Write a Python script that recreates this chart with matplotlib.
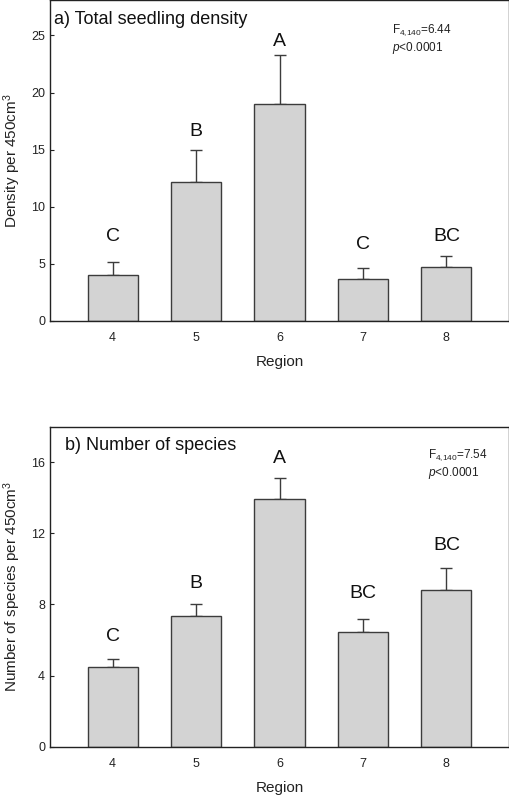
import matplotlib
matplotlib.use("Agg")
import matplotlib.pyplot as plt

plt.rcParams['font.family'] = ['Liberation Sans', 'DejaVu Sans']
plt.rcParams['mathtext.fontset'] = 'custom'
plt.rcParams['mathtext.rm'] = 'Liberation Sans'
plt.rcParams['mathtext.it'] = 'Liberation Sans:italic'

regions = [4, 5, 6, 7, 8]

density_mean = [4.0, 12.2, 19.0, 3.7, 4.75]
density_se = [1.2, 2.8, 4.3, 0.95, 0.92]
density_letters = ["C", "B", "A", "C", "BC"]
density_letter_y = [7.4, 16.6, 24.5, 6.7, 7.4]

species_mean = [4.5, 7.36, 13.92, 6.43, 8.81]
species_se = [0.45, 0.66, 1.22, 0.75, 1.23]
species_letters = ["C", "B", "A", "BC", "BC"]
species_letter_y = [6.2, 9.2, 16.2, 8.6, 11.3]

bar_color = "#d3d3d3"
edge_color = "#3c3c3c"

fig = plt.figure(figsize=(5.10, 7.96), dpi=100)
ax1 = fig.add_axes([50/510, 1 - 321/796, 459/510, 321/796])
ax2 = fig.add_axes([50/510, 1 - 746.7/796, 459/510, 320/796])


def draw(ax, means, ses, letters, ly, ylim, yticks, ylabel, title, title_xy, stat, stat_xy):
    ax.bar(regions, means, width=0.6, color=bar_color, edgecolor=edge_color, linewidth=1.0, zorder=2)
    ax.errorbar(regions, means, yerr=[[0]*len(ses), ses], fmt='none', ecolor=edge_color,
                elinewidth=1.0, capsize=4, capthick=1.0, zorder=1)
    for x, t, y in zip(regions, letters, ly):
        ax.text(x, y, t, ha='center', va='center', fontsize=14, color='#111111')
    ax.set_xlim(3.25, 8.75)
    ax.set_ylim(*ylim)
    ax.set_yticks(yticks)
    ax.set_xticks(regions)
    ax.tick_params(axis='both', direction='in', length=3, labelsize=9, color='#222222', labelcolor='#222222')
    ax.tick_params(axis='x', length=0, pad=8)
    ax.set_xlabel("Region", fontsize=11, labelpad=8, color='#222222')
    ax.set_ylabel(ylabel, fontsize=11, color='#222222', labelpad=6)
    for s in ax.spines.values():
        s.set_linewidth(1.0)
        s.set_color('#222222')
    ax.text(title_xy[0], title_xy[1], title, transform=ax.transAxes, fontsize=13,
            ha='left', va='center', color='#111111')
    ax.text(stat_xy[0], stat_xy[1], stat[0], transform=ax.transAxes, fontsize=8.5,
            ha='left', va='center', color='#222222')
    ax.text(stat_xy[0], stat_xy[1] - 0.055, stat[1], transform=ax.transAxes, fontsize=8.5,
            ha='left', va='center', color='#222222')


draw(ax1, density_mean, density_se, density_letters, density_letter_y, (0, 28.1),
     [0, 5, 10, 15, 20, 25], r"Density per 450cm$^3$", "a) Total seedling density",
     ((54 - 50) / 459, 1 - 20 / 321),
     (r"F$_{4{,}140}$=6.44", r"$\it{p}$<0.0001"), ((391.7 - 50) / 459, 1 - 30 / 321))

draw(ax2, species_mean, species_se, species_letters, species_letter_y, (0, 18),
     [0, 4, 8, 12, 16], r"Number of species per 450cm$^3$", "b) Number of species",
     ((65 - 50) / 459, 1 - (445 - 426.7) / 320),
     (r"F$_{4{,}140}$=7.54", r"$\it{p}$<0.0001"), ((427.7 - 50) / 459, 1 - (455 - 426.7) / 320))

fig.savefig("out.png", dpi=100)
